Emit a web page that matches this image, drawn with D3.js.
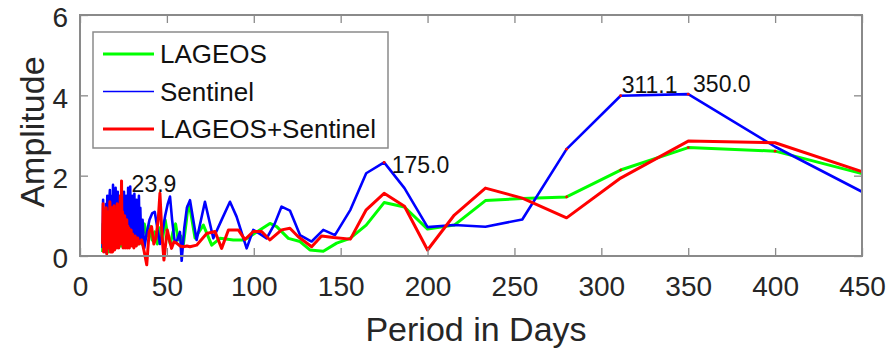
<!DOCTYPE html>
<html><head><meta charset="utf-8">
<script src="https://cdn.jsdelivr.net/npm/d3@7"></script>
<style>body{margin:0;background:#fff}svg{display:block}</style>
</head><body>
<script>
// ---- data ----
const xTicks = [0,50,100,150,200,250,300,350,400,450];
const yTicks = [0,2,4,6];
const seriesNames = ["LAGEOS","Sentinel","LAGEOS+Sentinel"];

const periodsL = [13.0,13.3,13.6,13.9,14.2,14.5,14.8,15.1,15.4,15.7,16.0,16.3,16.6,16.9,17.2,17.5,17.8,18.1,18.4,18.7,19.0,19.3,19.6,19.9,20.2,20.5,20.8,21.1,21.4,21.7,22.0,22.3,22.6,22.9,23.2,23.5,23.8,24.1,24.4,24.7,25.0,25.3,25.6,25.9,26.2,26.5,26.8,27.1,27.4,27.7,28.0,28.5,29.0,29.5,30.0,30.8,31.6,32.4,33.3,34.3,35.5,37.0,38.5,40.0,41.5,43.0,44.5,46.0,47.5,49.0,50.5,52.0,53.5,55.0,56.5,58.0,59.5,61.0,62.2,63.3,66.2,71.0,75.8,80.6,88.2,94.6,101.7,109.3,113.2,119.9,126.6,132.3,140,147.7,155.4,164.7,175,186.7,200,215.4,233.3,254.5,280,311.1,350,400,450];
const ampL = [0.1,0.8,0.15,0.5,0.9,0.1,0.6,0.2,0.7,1.0,0.2,0.6,0.1,0.7,0.3,1.1,0.2,0.8,0.3,0.9,0.2,0.6,0.3,0.9,0.2,0.7,0.3,1.0,0.25,0.8,0.3,0.9,0.25,0.7,0.3,0.8,0.25,0.9,0.3,0.7,0.25,0.8,0.3,0.75,0.35,0.9,0.3,0.7,0.25,0.8,0.3,0.75,0.35,0.8,0.35,0.9,0.4,0.7,0.3,0.6,0.3,0.8,0.5,0.75,0.4,0.6,0.3,0.7,0.4,0.9,0.5,0.3,0.6,0.8,0.4,0.5,0.3,0.8,1.25,1.19,0.45,0.77,0.27,0.44,0.40,0.40,0.60,0.81,0.73,0.44,0.36,0.15,0.12,0.32,0.44,0.77,1.33,1.22,0.67,0.77,1.38,1.43,1.47,2.14,2.70,2.61,2.05];

const periodsS = [13.0,13.3,13.6,13.9,14.2,14.5,14.8,15.1,15.4,15.7,16.0,16.3,16.6,16.9,17.2,17.5,17.8,18.1,18.4,18.7,19.0,19.3,19.6,19.9,20.2,20.5,20.8,21.1,21.4,21.7,22.0,22.3,22.6,22.9,23.2,23.5,23.8,24.1,24.4,24.7,25.0,25.3,25.6,25.9,26.2,26.5,26.8,27.1,27.4,27.7,28.0,28.3,28.6,28.9,29.2,29.5,29.8,30.1,30.4,30.7,31.0,31.3,31.6,31.9,32.2,32.5,32.8,33.1,33.5,33.9,34.3,34.7,35.2,36.0,37.0,38.5,40.0,41.5,43.0,44.5,46.0,47.5,49.0,50.5,51.8,53.0,54.5,56.0,57.5,58.5,60.0,61.5,63.3,67.1,71.9,76.7,81.5,86.3,90.1,95.9,99.7,103.5,107.4,112,116.0,120.8,126.6,133.3,140,146.7,155.6,164.7,175,186.7,200,215.4,233.3,254.5,280,311.1,350,400,450];
const ampS = [0.2,1.4,0.3,0.9,1.1,0.1,0.7,1.3,0.3,1.5,0.5,1.2,0.2,1.4,1.64,0.3,1.1,0.5,1.5,0.3,1.77,0.6,1.5,0.2,1.3,1.7,0.4,1.2,0.6,1.6,0.3,1.4,0.5,1.3,0.3,1.2,0.6,1.4,0.3,1.3,0.5,1.6,0.4,1.2,0.3,1.5,0.6,1.3,0.4,1.7,0.5,1.4,0.3,1.73,0.4,1.2,0.3,1.5,0.6,1.3,0.4,1.55,0.3,1.2,0.5,1.4,0.3,1.3,0.6,1.5,0.4,1.2,0.4,0.9,0.2,0.6,0.9,1.06,1.1,0.7,0.3,0.6,1.0,1.3,1.48,0.9,0.35,0.4,0.6,-0.12,0.7,1.2,1.39,0.40,1.35,0.44,0.9,1.35,0.98,0.19,0.65,0.55,0.44,0.8,1.23,1.13,0.52,0.36,0.65,0.52,1.15,2.06,2.33,1.69,0.72,0.77,0.73,0.91,2.66,3.99,4.03,2.72,1.60];

const periodsLS = [13.0,13.3,13.6,13.9,14.2,14.5,14.8,15.1,15.4,15.7,16.0,16.3,16.6,16.9,17.2,17.5,17.8,18.1,18.4,18.7,19.0,19.3,19.6,19.9,20.2,20.5,20.8,21.1,21.4,21.7,22.0,22.3,22.6,22.9,23.2,23.5,23.9,24.2,24.5,24.8,25.1,25.4,25.7,26.0,26.3,26.6,26.9,27.2,27.5,27.8,28.1,28.4,28.7,29.0,29.4,29.8,30.2,31.0,31.7,32.4,33.2,34.0,35.5,37.0,38.4,39.8,41.2,42.5,43.7,45.0,46.0,47.2,48.3,49.3,50.2,51.5,52.7,54.0,55.6,57.5,59.5,61.5,63.3,67.1,72.9,77.7,81.5,85.4,91.1,94.9,99.7,104.5,109.3,116,120.8,125.6,133.3,139,145.8,155.6,164.7,175,186.7,200,215.4,233.3,254.5,280,311.1,350,400,450];
const ampLS = [0.3,1.3,0.1,0.7,1.0,0.2,0.6,1.2,0.05,0.9,0.4,1.1,0.2,0.8,1.35,0.1,0.9,0.3,1.2,0.1,1.0,0.5,1.25,0.15,0.9,0.4,1.1,0.2,1.3,0.5,0.9,0.2,1.2,0.4,1.5,0.3,1.87,0.4,1.1,0.2,0.9,0.5,1.0,0.2,0.8,0.35,0.9,0.2,0.75,0.3,0.7,0.2,0.6,0.3,0.65,0.25,0.55,0.2,0.5,0.25,0.45,0.3,0.4,0.1,-0.22,0.6,0.73,0.3,0.45,0.9,1.56,0.5,-0.1,0.3,0.65,0.4,0.19,0.35,0.32,0.25,0.23,0.25,0.23,0.27,0.56,0.61,0.19,0.65,0.65,0.41,0.61,0.61,0.40,0.65,0.69,0.48,0.23,0.5,0.46,0.42,1.15,1.56,1.24,0.15,1.02,1.69,1.44,0.95,1.94,2.86,2.82,2.10];

const peakLabels = ["23.9","175.0","311.1","350.0"];
const peakLabelPeriods = [29.7,179.4,311.7,352.8];
const peakLabelAmps = [1.81,2.27,4.27,4.30];

const dotPeriodsS = [175,280,311.1,350];
const dotAmpsS = [2.33,2.66,3.99,4.03];
const dotPeriodsL = [280,311.1,350,400];
const dotAmpsL = [1.47,2.14,2.70,2.61];

// ---- drawing ----
const W = 892, H = 351;
const x = d3.scaleLinear().domain([0,450]).range([80,862]);
const y = d3.scaleLinear().domain([0,6]).range([256,15]);
const svg = d3.select("body").append("svg").attr("width",W).attr("height",H);
const font = "'Liberation Sans', Arial, sans-serif";
const axisColor = "#8a8a8a", textColor = "#262626";

svg.append("rect").attr("x",80).attr("y",15).attr("width",782).attr("height",241)
  .attr("fill","#fff");

const line = d3.line().x(d=>x(d[0])).y(d=>y(d[1]));
const series = [
  {p:periodsL, a:ampL, color:"#00ff00", w:3},
  {p:periodsS, a:ampS, color:"#0000ff", w:2.6},
  {p:periodsLS, a:ampLS, color:"#ff0000", w:3}
];
series.forEach(s=>{
  svg.append("path").datum(s.p.map((v,i)=>[v,s.a[i]]))
    .attr("d",line).attr("fill","none").attr("stroke",s.color)
    .attr("stroke-width",s.w).attr("stroke-linejoin","round");
});

// small red markers
[[dotPeriodsS,dotAmpsS],[dotPeriodsL,dotAmpsL]].forEach(([ps,as])=>{
  svg.selectAll(null).data(ps.map((v,i)=>[v,as[i]])).enter().append("circle")
    .attr("cx",d=>x(d[0])).attr("cy",d=>y(d[1])).attr("r",1.4).attr("fill","#ff0000");
});

// axes
function styleAxis(g){
  g.select(".domain").remove();
  g.selectAll(".tick line").attr("stroke",axisColor).attr("stroke-width",1.3);
  g.selectAll("text").attr("fill",textColor).style("font-family",font).style("font-size","28px");
}
svg.append("g").attr("transform","translate(0,256)")
  .call(d3.axisBottom(x).tickValues(xTicks).tickFormat(d3.format("d")).tickSizeInner(-8).tickSizeOuter(0).tickPadding(20))
  .call(styleAxis);
svg.append("g").attr("transform","translate(0,15)")
  .call(d3.axisTop(x).tickValues(xTicks).tickSizeInner(-8).tickSizeOuter(0).tickFormat(""))
  .call(styleAxis);
svg.append("g").attr("transform","translate(80,0)")
  .call(d3.axisLeft(y).tickValues(yTicks).tickFormat(d3.format("d")).tickSizeInner(-8).tickSizeOuter(0).tickPadding(12))
  .call(styleAxis)
  .selectAll("text").attr("dy","0.42em");
svg.append("g").attr("transform","translate(862,0)")
  .call(d3.axisRight(y).tickValues(yTicks).tickSizeInner(-8).tickSizeOuter(0).tickFormat(""))
  .call(styleAxis);

svg.append("rect").attr("x",80).attr("y",15).attr("width",782).attr("height",241)
  .attr("fill","none").attr("stroke",axisColor).attr("stroke-width",2);

// axis labels
svg.append("text").attr("x",476).attr("y",341).attr("text-anchor","middle")
  .attr("fill",textColor).style("font-family",font).style("font-size","34px").text("Period in Days");
svg.append("text").attr("transform","translate(44,132) rotate(-90)").attr("text-anchor","middle")
  .attr("fill",textColor).style("font-family",font).style("font-size","34px").text("Amplitude");

// peak labels
peakLabels.forEach((t,i)=>{
  svg.append("text").attr("x",x(peakLabelPeriods[i])).attr("y",y(peakLabelAmps[i]))
    .attr("dy","0.36em").attr("fill","#111").style("font-family",font).style("font-size","23px").text(t);
});

// legend
const lg = svg.append("g");
lg.append("rect").attr("x",93).attr("y",32).attr("width",295).attr("height",116)
  .attr("fill","#fff").attr("stroke",axisColor).attr("stroke-width",1.5);
const legendW = [3,1.6,3];
seriesNames.forEach((n,i)=>{
  const cy = 54 + i*37.5;
  lg.append("line").attr("x1",103).attr("x2",154).attr("y1",cy).attr("y2",cy)
    .attr("stroke",series[i].color).attr("stroke-width",legendW[i]);
  lg.append("text").attr("x",160).attr("y",cy).attr("dy","0.36em").attr("fill","#111")
    .style("font-family",font).style("font-size","26px").text(n);
});
</script>
</body></html>
